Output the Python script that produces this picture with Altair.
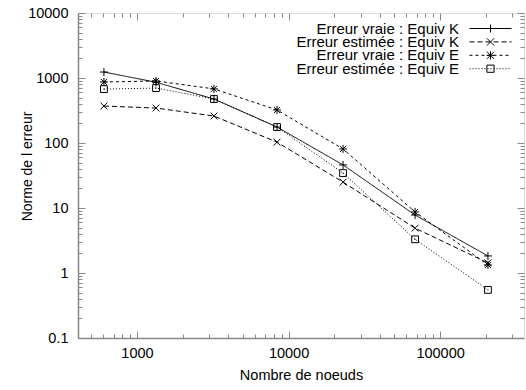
import altair as alt
import pandas as pd

# ---- data ----
nodes = [605, 1335, 3220, 8400, 22900, 68400, 207000]
vraie_K = [1236, 860, 475, 176, 46, 7.8, 1.83]
estimee_K = [370, 345, 260, 103, 25, 4.9, 1.43]
vraie_E = [868, 900, 680, 322, 81, 8.7, 1.33]
estimee_E = [675, 700, 475, 176, 34.5, 3.3, 0.55]

series_names = [
    "Erreur vraie : Equiv K",
    "Erreur estimée : Equiv K",
    "Erreur vraie : Equiv E",
    "Erreur estimée : Equiv E",
]
series_values = [vraie_K, estimee_K, vraie_E, estimee_E]

x_major = [1000, 10000, 100000]
x_minor = [500, 600, 700, 800, 900,
           2000, 3000, 4000, 5000, 6000, 7000, 8000, 9000,
           20000, 30000, 40000, 50000, 60000, 70000, 80000, 90000,
           200000, 300000]
y_major = [0.1, 1, 10, 100, 1000, 10000]
y_minor = [0.2, 0.3, 0.4, 0.5, 0.6, 0.7, 0.8, 0.9,
           2, 3, 4, 5, 6, 7, 8, 9,
           20, 30, 40, 50, 60, 70, 80, 90,
           200, 300, 400, 500, 600, 700, 800, 900,
           2000, 3000, 4000, 5000, 6000, 7000, 8000, 9000]

rows = []
for name, vals in zip(series_names, series_values):
    for n, v in zip(nodes, vals):
        rows.append({"series": name, "nodes": n, "err": v})
df = pd.DataFrame(rows)

# ---- styles ----
FONT = "Liberation Sans"
W, H = 446, 325
dashes = [[1, 0], [5, 3], [3, 3], [1, 2]]

marker_paths = [
    "M-1,0L1,0M0,-1L0,1",
    "M-0.85,-0.85L0.85,0.85M-0.85,0.85L0.85,-0.85",
    "M-1,0L1,0M0,-1L0,1M-0.75,-0.75L0.75,0.75M-0.75,0.75L0.75,-0.75",
    "M-0.85,-0.85L0.85,-0.85L0.85,0.85L-0.85,0.85ZM-0.15,0L0.15,0",
]

LEG_SIZE = 180
unit = (LEG_SIZE ** 0.5) / 2.0  # px per path unit


def line_path(half_px, on_px, off_px):
    h = half_px / unit
    if off_px == 0:
        return f"M{-h:.3f},0L{h:.3f},0"
    on, off = on_px / unit, off_px / unit
    parts = []
    x = -h
    while x < h:
        x2 = min(x + on, h)
        parts.append(f"M{x:.3f},0L{x2:.3f},0")
        x = x2 + off
    return "".join(parts)


def mk(px):
    return px / unit


m = mk(3.6)
legend_markers = [
    f"M0,{-mk(4):.3f}L0,{mk(4):.3f}",
    f"M{-m:.3f},{-m:.3f}L{m:.3f},{m:.3f}M{-m:.3f},{m:.3f}L{m:.3f},{-m:.3f}",
    f"M{-mk(4):.3f},0L{mk(4):.3f},0M0,{-mk(4):.3f}L0,{mk(4):.3f}M{-m:.3f},{-m:.3f}L{m:.3f},{m:.3f}M{-m:.3f},{m:.3f}L{m:.3f},{-m:.3f}",
    f"M{-m:.3f},{-m:.3f}L{m:.3f},{-m:.3f}L{m:.3f},{m:.3f}L{-m:.3f},{m:.3f}Z",
]
legend_paths = [line_path(21, d[0], d[1] if d[1] else 0) + lm
                for d, lm in zip(dashes, legend_markers)]
legend_rows_y = [8.0, 21.4, 34.8, 48.2]   # legend row offsets (layout)

xscale = alt.Scale(type="log", domain=[408, 358000], nice=False)
yscale = alt.Scale(type="log", domain=[0.1, 10000], nice=False)


def X(axis):
    return alt.X("nodes:Q", scale=xscale, axis=axis)


def Y(axis):
    return alt.Y("err:Q", scale=yscale, axis=axis)


main_x = alt.Axis(values=x_major, format="~g", title="Nombre de noeuds",
                  tickSize={"expr": "-7"}, labelPadding=15, grid=False,
                  domain=True, domainWidth=1.5, titleY=37, titleBaseline="middle",
                  titleFontWeight="normal", labelFlush=False,
                  labelFont=FONT, titleFont=FONT, labelFontSize=14.5,
                  titleFontSize=14.5, labelColor="black", titleColor="black")
main_y = alt.Axis(values=y_major, format="~g", title="Norme de l erreur",
                  tickSize={"expr": "-7"}, labelPadding=17, grid=False,
                  domain=True, domainWidth=1.5, titleX=-51, titleY=153,
                  titleBaseline="middle", titleAngle=270,
                  titleFontWeight="normal", labelFlush=False,
                  labelFont=FONT, titleFont=FONT, labelFontSize=14.5,
                  titleFontSize=14, labelColor="black", titleColor="black")
minor_x = alt.Axis(values=x_minor, orient="bottom", tickSize={"expr": "-4"},
                   labels=False, domain=False, grid=False, title=None)
minor_y = alt.Axis(values=y_minor, orient="left", tickSize={"expr": "-4"},
                   labels=False, domain=False, grid=False, title=None)
top_major = alt.Axis(values=x_major, orient="top", tickSize={"expr": "-7"},
                     labels=False, domain=False, grid=False, title=None)
right_major = alt.Axis(values=y_major, orient="right", tickSize={"expr": "-7"},
                       labels=False, domain=False, grid=False, title=None)
top_minor = alt.Axis(values=x_minor, orient="top", tickSize={"expr": "-4"},
                     labels=False, domain=False, grid=False, title=None)
right_minor = alt.Axis(values=y_minor, orient="right", tickSize={"expr": "-4"},
                       labels=False, domain=False, grid=False, title=None)

base = alt.Chart(df)

lines = base.mark_line(color="black", strokeWidth=1).encode(
    x=X(main_x), y=Y(main_y),
    strokeDash=alt.StrokeDash("series:N",
                              scale=alt.Scale(domain=series_names, range=dashes),
                              legend=None),
)

points = base.mark_point(color="black", filled=False, size=64, strokeWidth=1,
                         opacity=1).encode(
    x=X(None), y=Y(None),
    shape=alt.Shape("series:N",
                    scale=alt.Scale(domain=series_names, range=marker_paths),
                    legend=None),
)

empty = base.transform_filter("false")
minor_layer = empty.mark_point().encode(x=X(minor_x), y=Y(minor_y))
mirror_major = empty.mark_point().encode(x=X(top_major), y=Y(right_major))
mirror_minor = empty.mark_point().encode(x=X(top_minor), y=Y(right_minor))

# one single-entry legend per series (gnuplot-style key: text, then sample)
legend_layers = []
for name, path, ly in zip(series_names, legend_paths, legend_rows_y):
    lg = alt.Legend(title=None, orient="none", legendX=405, legendY=ly,
                    labelAlign="right", labelOffset={"expr": "-39"},
                    labelLimit=400, symbolSize=LEG_SIZE,
                    symbolStrokeColor="black", symbolStrokeWidth=1,
                    symbolFillColor="transparent", symbolOpacity=1,
                    padding=0, labelFontSize=15, labelFont=FONT,
                    labelColor="black")
    legend_layers.append(
        empty.mark_point(color="black", filled=False, size=LEG_SIZE,
                         strokeWidth=1).encode(
            x=X(None), y=Y(None),
            shape=alt.Shape("series:N",
                            scale=alt.Scale(domain=[name], range=[path]),
                            legend=lg),
        )
    )

chart = alt.layer(
    lines, points, minor_layer, mirror_major, mirror_minor, *legend_layers
).resolve_axis(
    x="independent", y="independent"
).resolve_scale(
    shape="independent"
).properties(
    width=W, height=H, autosize="none",
    padding={"left": 78, "top": 13, "right": 2, "bottom": 52},
).configure_view(
    stroke="black", strokeWidth=1
).configure_axis(
    labelFont=FONT, titleFont=FONT,
    labelColor="black", titleColor="black", tickColor="black",
    domainColor="black", tickWidth=1,
).configure(background="white")

chart.save("out.html", embed_options={"renderer": "svg", "actions": False})
